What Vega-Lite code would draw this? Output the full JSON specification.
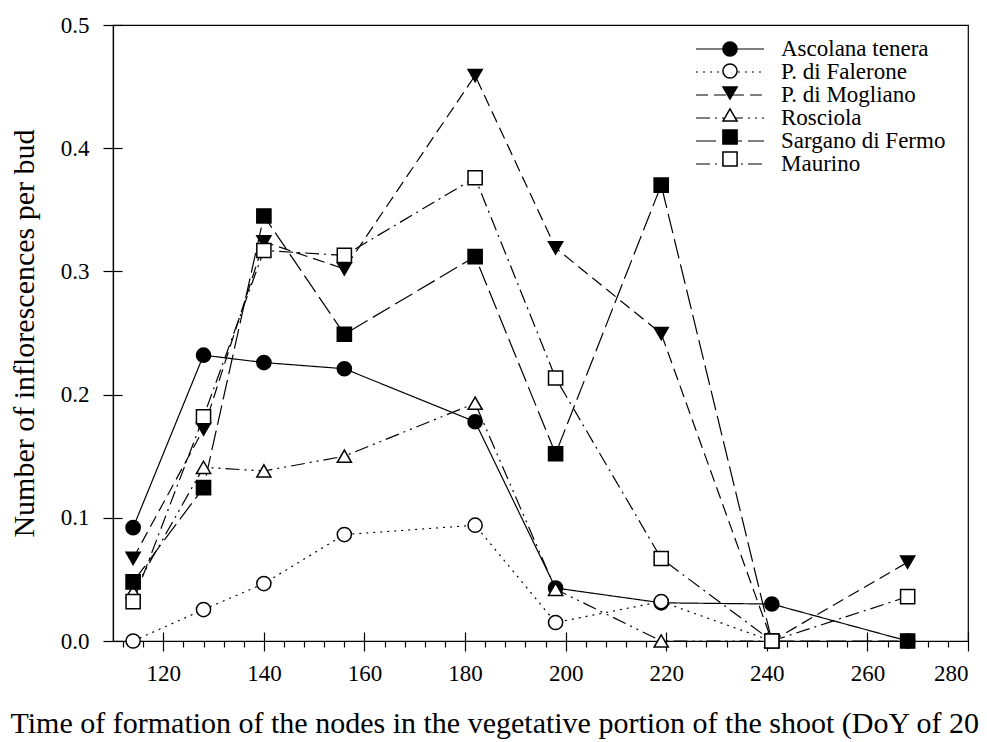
{
  "$schema": "https://vega.github.io/schema/vega-lite/v6.json",
  "width": 855,
  "height": 616,
  "autosize": {"type": "none"},
  "padding": {"left": 113, "top": 25, "right": 19, "bottom": 101},
  "config": {
    "font": "Liberation Serif",
    "view": {"stroke": "black", "strokeWidth": 1.2},
    "axis": {"domainColor": "black", "tickColor": "black", "labelColor": "black", "titleColor": "black", "grid": false, "domainWidth": 1.2, "tickWidth": 1.2, "labelFont": "Liberation Serif", "titleFont": "Liberation Serif", "titleFontWeight": "normal"},
    "legend": {"labelFont": "Liberation Serif"}
  },
  "data": {
    "values": [
      {"cultivar": "Ascolana tenera", "doy": 114, "value": 0.092},
      {"cultivar": "Ascolana tenera", "doy": 128, "value": 0.232},
      {"cultivar": "Ascolana tenera", "doy": 140, "value": 0.226},
      {"cultivar": "Ascolana tenera", "doy": 156, "value": 0.221},
      {"cultivar": "Ascolana tenera", "doy": 182, "value": 0.178},
      {"cultivar": "Ascolana tenera", "doy": 198, "value": 0.043},
      {"cultivar": "Ascolana tenera", "doy": 219, "value": 0.031},
      {"cultivar": "Ascolana tenera", "doy": 241, "value": 0.030},
      {"cultivar": "Ascolana tenera", "doy": 268, "value": 0.0},
      {"cultivar": "P. di Falerone", "doy": 114, "value": 0.0},
      {"cultivar": "P. di Falerone", "doy": 128, "value": 0.0255},
      {"cultivar": "P. di Falerone", "doy": 140, "value": 0.0466},
      {"cultivar": "P. di Falerone", "doy": 156, "value": 0.0864},
      {"cultivar": "P. di Falerone", "doy": 182, "value": 0.094},
      {"cultivar": "P. di Falerone", "doy": 198, "value": 0.015},
      {"cultivar": "P. di Falerone", "doy": 219, "value": 0.032},
      {"cultivar": "P. di Falerone", "doy": 241, "value": 0.0},
      {"cultivar": "P. di Mogliano", "doy": 114, "value": 0.067},
      {"cultivar": "P. di Mogliano", "doy": 128, "value": 0.172},
      {"cultivar": "P. di Mogliano", "doy": 140, "value": 0.324},
      {"cultivar": "P. di Mogliano", "doy": 156, "value": 0.302},
      {"cultivar": "P. di Mogliano", "doy": 182, "value": 0.459},
      {"cultivar": "P. di Mogliano", "doy": 198, "value": 0.319},
      {"cultivar": "P. di Mogliano", "doy": 219, "value": 0.2495},
      {"cultivar": "P. di Mogliano", "doy": 241, "value": 0.0},
      {"cultivar": "P. di Mogliano", "doy": 268, "value": 0.064},
      {"cultivar": "Rosciola", "doy": 114, "value": 0.040},
      {"cultivar": "Rosciola", "doy": 128, "value": 0.141},
      {"cultivar": "Rosciola", "doy": 140, "value": 0.138},
      {"cultivar": "Rosciola", "doy": 156, "value": 0.150},
      {"cultivar": "Rosciola", "doy": 182, "value": 0.193},
      {"cultivar": "Rosciola", "doy": 198, "value": 0.042},
      {"cultivar": "Rosciola", "doy": 219, "value": 0.0},
      {"cultivar": "Rosciola", "doy": 241, "value": 0.0},
      {"cultivar": "Sargano di Fermo", "doy": 114, "value": 0.048},
      {"cultivar": "Sargano di Fermo", "doy": 128, "value": 0.1245},
      {"cultivar": "Sargano di Fermo", "doy": 140, "value": 0.345},
      {"cultivar": "Sargano di Fermo", "doy": 156, "value": 0.249},
      {"cultivar": "Sargano di Fermo", "doy": 182, "value": 0.312},
      {"cultivar": "Sargano di Fermo", "doy": 198, "value": 0.152},
      {"cultivar": "Sargano di Fermo", "doy": 219, "value": 0.370},
      {"cultivar": "Sargano di Fermo", "doy": 241, "value": 0.0},
      {"cultivar": "Sargano di Fermo", "doy": 268, "value": 0.0},
      {"cultivar": "Maurino", "doy": 114, "value": 0.032},
      {"cultivar": "Maurino", "doy": 128, "value": 0.182},
      {"cultivar": "Maurino", "doy": 140, "value": 0.317},
      {"cultivar": "Maurino", "doy": 156, "value": 0.313},
      {"cultivar": "Maurino", "doy": 182, "value": 0.376},
      {"cultivar": "Maurino", "doy": 198, "value": 0.2135},
      {"cultivar": "Maurino", "doy": 219, "value": 0.067},
      {"cultivar": "Maurino", "doy": 241, "value": 0.0},
      {"cultivar": "Maurino", "doy": 268, "value": 0.036}
    ]
  },
  "resolve": {"axis": {"x": "independent", "y": "independent"}},
  "layer": [
    {
      "mark": {"type": "line", "stroke": "black", "strokeWidth": 1.2},
      "encoding": {
        "x": {"field": "doy", "type": "quantitative", "scale": {"domain": [110, 280], "nice": false, "zero": false},
          "axis": {"orient": "bottom", "values": [120, 140, 160, 180, 200, 220, 240, 260, 280], "tickSize": 10, "labelFont": "Liberation Serif", "labelFontSize": 23, "labelPadding": 11, "title": "Time of formation of the nodes in the vegetative portion of the shoot (DoY of  20", "titleFont": "Liberation Serif", "titleFontSize": 30, "titleAnchor": "start", "titleAlign": "left", "titleX": -103, "titleY": 91, "titleBaseline": "alphabetic", "titleLimit": 2000}},
        "y": {"field": "value", "type": "quantitative", "scale": {"domain": [0, 0.5], "nice": false},
          "axis": {"orient": "left", "values": [0, 0.1, 0.2, 0.3, 0.4, 0.5], "format": ".1f", "tickSize": 10, "labelFont": "Liberation Serif", "labelFontSize": 23, "labelPadding": 14, "title": "Number of inflorescences per bud", "titleFont": "Liberation Serif", "titleFontSize": 30, "titleX": -89, "titleY": 308, "titleAngle": -90, "titleAlign": "center", "titleBaseline": "middle", "titleAnchor": "middle"}},
        "strokeDash": {"field": "cultivar", "type": "nominal",
          "sort": ["Ascolana tenera", "P. di Falerone", "P. di Mogliano", "Rosciola", "Sargano di Fermo", "Maurino"],
          "scale": {"range": [[1, 0], [2, 5], [12, 6], [14, 5, 2, 5, 2, 5], [20, 6], [14, 5, 2, 5]]},
          "legend": {"orient": "none", "legendX": 582, "legendY": 13, "title": null, "symbolType": "stroke", "symbolSize": 4624, "symbolStrokeWidth": 1.2, "symbolStrokeColor": "black", "clipHeight": 22, "rowPadding": -2, "padding": 0, "labelFontSize": 23, "labelOffset": 16, "labelColor": "black", "labelLimit": 400, "zindex": 1}}
      }
    },
    {
      "mark": {"type": "point", "filled": true, "stroke": "black", "strokeWidth": 1.5, "opacity": 1, "size": 200},
      "encoding": {
        "x": {"field": "doy", "type": "quantitative", "axis": null},
        "y": {"field": "value", "type": "quantitative", "axis": null},
        "shape": {"field": "cultivar", "type": "nominal",
          "scale": {"domain": ["Ascolana tenera", "P. di Falerone", "P. di Mogliano", "Rosciola", "Sargano di Fermo", "Maurino"], "range": ["circle", "circle", "triangle-down", "triangle-up", "square", "square"]},
          "legend": {"orient": "none", "legendX": 609, "legendY": 13, "title": null, "symbolSize": 200, "clipHeight": 22, "rowPadding": -2, "padding": 0, "labelFontSize": 12, "labelOpacity": 0, "labelExpr": "''", "zindex": 5}},
        "fill": {"field": "cultivar", "type": "nominal",
          "scale": {"domain": ["Ascolana tenera", "P. di Falerone", "P. di Mogliano", "Rosciola", "Sargano di Fermo", "Maurino"], "range": ["black", "white", "black", "white", "black", "white"]},
          "legend": {"orient": "none", "legendX": 609, "legendY": 13, "title": null, "symbolSize": 200, "clipHeight": 22, "rowPadding": -2, "padding": 0, "labelFontSize": 12, "labelOpacity": 0, "labelExpr": "''", "zindex": 5}}
      }
    },
    {
      "mark": {"type": "point", "opacity": 0},
      "encoding": {
        "x": {"field": "doy", "type": "quantitative",
          "axis": {"orient": "bottom", "values": [112, 116, 124, 128, 132, 136, 144, 148, 152, 156, 164, 168, 172, 176, 184, 188, 192, 196, 204, 208, 212, 216, 224, 228, 232, 236, 244, 248, 252, 256, 264, 268, 272, 276], "tickSize": 6, "labels": false, "domain": false, "title": null}},
        "y": {"field": "value", "type": "quantitative",
          "axis": {"orient": "left", "values": [0, 0.1, 0.2, 0.3, 0.4, 0.5], "tickSize": -9, "labels": false, "domain": false, "title": null}}
      }
    },
    {
      "mark": {"type": "point", "opacity": 0},
      "encoding": {
        "x": {"field": "doy", "type": "quantitative",
          "axis": {"orient": "bottom", "values": [120, 140, 160, 180, 200, 220, 240, 260, 280], "tickSize": -9, "labels": false, "domain": false, "title": null}},
        "y": {"field": "value", "type": "quantitative", "axis": null}
      }
    }
  ]
}
